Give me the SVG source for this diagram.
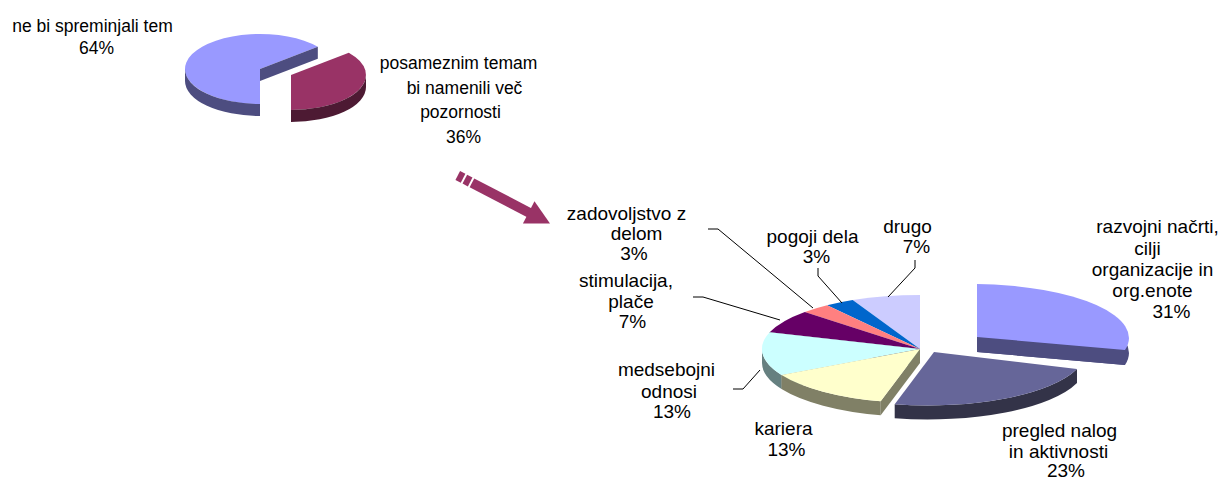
<svg xmlns="http://www.w3.org/2000/svg" width="1226" height="479" viewBox="0 0 1226 479">
<style>
text{font-family:"Liberation Sans",Arial,sans-serif;fill:#000;text-anchor:middle}
.t{font-size:17.5px}
.b{font-size:19px}
.ld{fill:none;stroke:#000;stroke-width:1}
</style>
<rect width="1226" height="479" fill="#fff"/>
<g id="pie-top">
  <g id="slice-ne-bi">
    <path d="M260,69 L260,104 A75,35 0 1 1 317.8,46.7 Z" fill="#9999FF"/>
    <path d="M260,69 L317.8,46.7 L317.8,58.7 L260,81 Z" fill="#4D4D80"/>
    <path d="M260,104 A75,35 0 0 1 185,69 L185,81 A75,35 0 0 0 260,116 Z" fill="#4D4D80"/>
  </g>
  <g id="slice-posameznim">
    <path d="M291,75 L348.8,52.7 A75,35 0 0 1 291,110 Z" fill="#993366"/>
    <path d="M366,75 A75,35 0 0 1 291,110 L291,122 A75,35 0 0 0 366,87 Z" fill="#4D1A33"/>
  </g>
</g>
<g id="arrow" transform="translate(550,223.5) rotate(27.5)" fill="#993366">
  <rect x="-104" y="-5" width="6" height="10"/>
  <rect x="-96" y="-5" width="6" height="10"/>
  <rect x="-88" y="-5" width="66" height="10"/>
  <polygon points="0,0 -24,-12.5 -24,12.5"/>
</g>
<g id="pie-bottom">
  <g id="slice-razvojni">
    <path d="M977,337 L977,284 A158,54 0 0 1 1125,350 Z" transform="translate(0,15)" fill="#4D4D80"/>
    <path d="M977,337 L1125,350 L1125,365 L977,352 Z" fill="#4D4D80"/>
    <path d="M977,337 L977,284 A158,54 0 0 1 1125,350 Z" fill="#9999FF"/>
  </g>
  <g id="slice-drugo">
    <path d="M920,349 L852.7,300.1 A158,54 0 0 1 920,295 Z" fill="#CCCCFF"/>
  </g>
  <g id="slice-pogoji">
    <path d="M920,349 L827.1,305.3 A158,54 0 0 1 852.7,300.1 Z" fill="#0066CC"/>
  </g>
  <g id="slice-zadovoljstvo">
    <path d="M920,349 L804.8,312 A158,54 0 0 1 827.1,305.3 Z" fill="#FF8080"/>
  </g>
  <g id="slice-stimulacija">
    <path d="M920,349 L769.7,332.3 L769.7,346.3 L920,363 Z" fill="#330033"/>
    <path d="M920,349 L769.7,332.3 A158,54 0 0 1 804.8,312 Z" fill="#660066"/>
  </g>
  <g id="slice-medsebojni">
    <path d="M920,349 L781.5,375 L781.5,389 L920,363 Z" fill="#668080"/>
    <path d="M781.5,375 A158,54 0 0 1 762,349 L762,363 A158,54 0 0 0 781.5,389 Z" fill="#668080"/>
    <path d="M920,349 L781.5,375 A158,54 0 0 1 769.7,332.3 Z" fill="#CCFFFF"/>
  </g>
  <g id="slice-kariera">
    <path d="M920,349 L880.7,401.3 L880.7,415.3 L920,363 Z" fill="#808066"/>
    <path d="M880.7,401.3 A158,54 0 0 1 781.5,375 L781.5,389 A158,54 0 0 0 880.7,415.3 Z" fill="#808066"/>
    <path d="M920,349 L880.7,401.3 A158,54 0 0 1 781.5,375 Z" fill="#FFFFCC"/>
  </g>
  <g id="slice-pregled">
    <path d="M1077,369 A158,54 0 0 1 894.7,404.3 L894.7,418.3 A158,54 0 0 0 1077,383 Z" fill="#333348"/>
    <path d="M934,352 L1077,369 A158,54 0 0 1 894.7,404.3 Z" fill="#666699"/>
  </g>
</g>
<g id="connectors">
  <polyline class="ld" points="708,229 718,229 813,308"/>
  <polyline class="ld" points="693,297 703,297 780,320"/>
  <polyline class="ld" points="818,268 818,276 842,303"/>
  <polyline class="ld" points="915,260 915,268 888,297"/>
  <polyline class="ld" points="733,389 743,389 760,370"/>
</g>
<g id="labels">
  <g id="label-ne-bi" class="t">
    <text x="92.5" y="32">ne bi spreminjali tem</text>
    <text x="96.5" y="54">64%</text>
  </g>
  <g id="label-posameznim" class="t">
    <text x="458.5" y="69">posameznim temam</text>
    <text x="464.5" y="94">bi namenili več</text>
    <text x="460.5" y="118">pozornosti</text>
    <text x="463.5" y="142.5">36%</text>
  </g>
  <g id="label-zadovoljstvo" class="b">
    <text x="626.5" y="220">zadovoljstvo z</text>
    <text x="636.5" y="240">delom</text>
    <text x="634" y="260">3%</text>
  </g>
  <g id="label-stimulacija" class="b">
    <text x="626" y="287">stimulacija,</text>
    <text x="631" y="308">plače</text>
    <text x="632.5" y="328">7%</text>
  </g>
  <g id="label-pogoji" class="b">
    <text x="812.5" y="243">pogoji dela</text>
    <text x="816.5" y="263">3%</text>
  </g>
  <g id="label-drugo" class="b">
    <text x="907.5" y="233">drugo</text>
    <text x="916.5" y="253">7%</text>
  </g>
  <g id="label-razvojni" class="b">
    <text x="1157.5" y="233">razvojni načrti,</text>
    <text x="1147.5" y="255">cilji</text>
    <text x="1152.5" y="276">organizacije in</text>
    <text x="1152.5" y="297">org.enote</text>
    <text x="1171.5" y="318">31%</text>
  </g>
  <g id="label-medsebojni" class="b">
    <text x="666.5" y="376">medsebojni</text>
    <text x="669" y="398">odnosi</text>
    <text x="672" y="418">13%</text>
  </g>
  <g id="label-kariera" class="b">
    <text x="783.5" y="435">kariera</text>
    <text x="786.5" y="456">13%</text>
  </g>
  <g id="label-pregled" class="b">
    <text x="1059.5" y="437">pregled nalog</text>
    <text x="1058.5" y="458">in aktivnosti</text>
    <text x="1066" y="477">23%</text>
  </g>
</g>
</svg>
